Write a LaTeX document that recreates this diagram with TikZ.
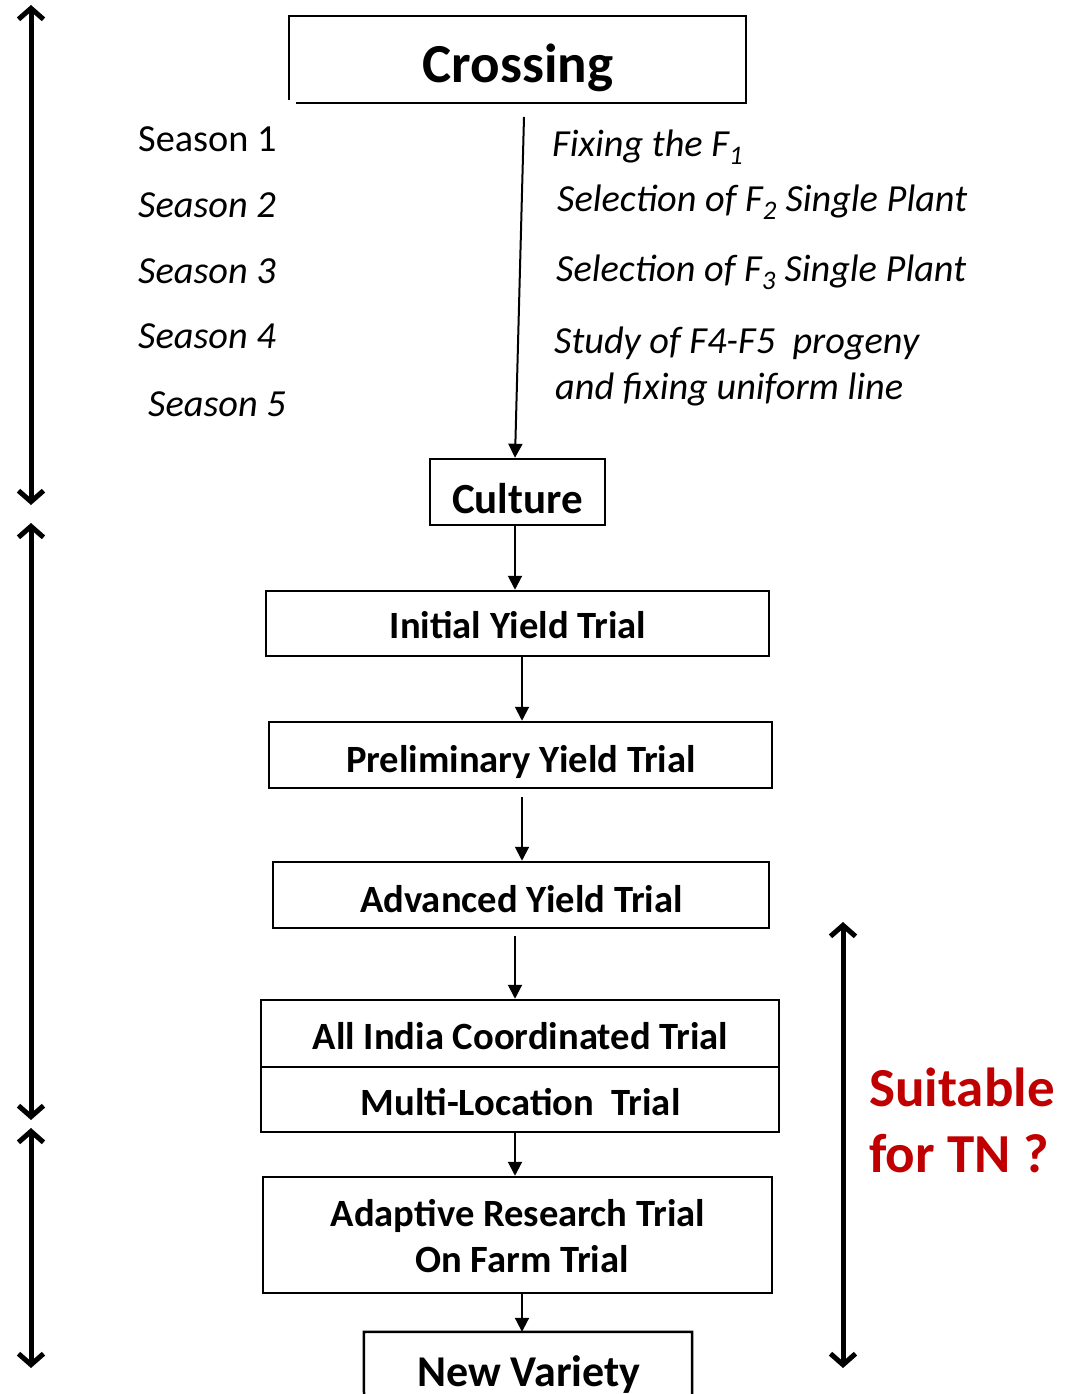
\documentclass[tikz,border=0pt]{standalone}
\usepackage{fontspec}
\setmainfont{Carlito}
\usetikzlibrary{arrows.meta}
\definecolor{tnred}{HTML}{C00000}
\begin{document}
\begin{tikzpicture}[x=1pt,y=-1pt,
  box/.style={draw, line width=2.5pt, inner sep=0pt},
  boxtxt/.style={anchor=base, inner sep=0pt, font=\fontsize{38.6}{42}\selectfont\bfseries},
  flow/.style={line width=2pt, -{Triangle[length=14pt,width=14pt]}},
  span/.style={line width=5pt, line cap=round, {Straight Barb[length=11pt,width=25pt]}-{Straight Barb[length=11pt,width=25pt]}},
  season/.style={anchor=base west, inner sep=0pt, font=\fontsize{38.3}{42}\selectfont},
  seasonit/.style={season, font=\fontsize{38.3}{42}\selectfont\itshape},
  note/.style={anchor=base west, inner sep=0pt, font=\fontsize{38.3}{42}\selectfont\itshape},
]
\useasboundingbox (0,0) rectangle (1072,1394);

% Crossing box (with its slightly offset lower-left corner)
\node[inner sep=0pt, minimum width=457pt, minimum height=87pt] (cross) at (517.5,59.5) {};
\draw[line width=2.5pt] ([yshift=3pt]cross.south west) -- (cross.north west) -- (cross.north east) -- (cross.south east) -- ([xshift=7pt]cross.south west);
\node[anchor=base, inner sep=0pt, font=\fontsize{55}{60}\selectfont\bfseries] (crossT) at (518,83) {Crossing};

% Season labels
\node[season] (s1) at (138,151) {Season 1};
\node[seasonit] (s2) at (138,217) {Season 2};
\node[seasonit] (s3) at (138,283) {Season 3};
\node[seasonit] (s4) at (138,348) {Season 4};
\node[seasonit] (s5) at (148,416) {Season 5};

% Generation notes
\node[note] (n1) at (552,156) {Fixing the F\textsubscript{1}};
\node[note] (n2) at (557,211) {Selection of F\textsubscript{2} Single Plant};
\node[note] (n3) at (556,281) {Selection of F\textsubscript{3} Single Plant};
\node[note] (n4) at (554,353) {Study of F4-F5\ \ progeny};
\node[note] (n5) at (555,399) {and fixing uniform line};

% Culture
\node[box, minimum width=175pt, minimum height=66pt] (cult) at (517.5,492) {};
\node[boxtxt, font=\fontsize{43}{48}\selectfont\bfseries] (cultT) at (517.5,513) {Culture};

% Trials
\node[box, minimum width=503pt, minimum height=65pt] (iyt) at (517.5,623.5) {};
\node[boxtxt] (iytT) at (518,638) {Initial Yield Trial};

\node[box, minimum width=503pt, minimum height=66pt] (pyt) at (520.5,755) {};
\node[boxtxt] (pytT) at (521,772) {Preliminary Yield Trial};

\node[box, minimum width=496pt, minimum height=66pt] (ayt) at (521,895) {};
\node[boxtxt] (aytT) at (521.5,912) {Advanced Yield Trial};

\node[box, minimum width=518pt, minimum height=67pt] (aic) at (520,1033.5) {};
\node[boxtxt] (aicT) at (520.5,1049) {All India Coordinated Trial};
\node[box, minimum width=518pt, minimum height=65pt] (mlt) at (520,1099.5) {};
\node[boxtxt] (mltT) at (520.5,1115) {Multi-Location\ \ Trial};

\node[box, minimum width=509pt, minimum height=116pt] (art) at (517.5,1235) {};
\node[boxtxt] (artT1) at (518,1226) {Adaptive Research Trial};
\node[boxtxt] (artT2) at (522,1272) {On Farm Trial};

% New Variety (box runs off the bottom edge)
\node[inner sep=0pt, minimum width=328pt, minimum height=80pt] (nv) at (528,1372) {};
\draw[line width=2.5pt] (364,1394) -- (nv.north west) -- (nv.north east) -- (692,1394);
\node[boxtxt, font=\fontsize{44}{48}\selectfont\bfseries] (nvT) at (529,1386) {New Variety};

% Flow arrows
\coordinate (c0) at (524,117);
\draw[flow] (c0) -- ([xshift=-2.5pt]cult.north);
\draw[flow] ([xshift=-2.5pt]cult.south) -- ([xshift=-2.5pt]cult.south |- iyt.north);
\draw[flow] ([xshift=4.5pt]iyt.south) -- ([xshift=4.5pt]iyt.south |- pyt.north);
\draw[flow] ([xshift=1.5pt,yshift=-8pt]pyt.south) -- ([xshift=1.5pt]pyt.south |- ayt.north);
\draw[flow] ([xshift=-6pt,yshift=-7pt]ayt.south) -- ([xshift=-6pt]ayt.south |- aic.north);
\draw[flow] ([xshift=-5pt]mlt.south) -- ([xshift=-5pt]mlt.south |- art.north);
\draw[flow] ([xshift=4.5pt]art.south) -- ([xshift=4.5pt]art.south |- nv.north);

% Season span arrows
\coordinate (a1t) at (31,5);    \coordinate (a1b) at (31,505);
\coordinate (a2t) at (31,523);  \coordinate (a2b) at (31,1120);
\coordinate (a3t) at (31,1128); \coordinate (a3b) at (31,1368);
\coordinate (a4t) at (843,922); \coordinate (a4b) at (843,1368);
\draw[span] (a1t) -- (a1b);
\draw[span] (a2t) -- (a2b);
\draw[span] (a3t) -- (a3b);
\draw[span] (a4t) -- (a4b);

% Suitable for TN ?
\node[anchor=base west, inner sep=0pt, align=left, text=tnred, font=\fontsize{55}{66}\selectfont\bfseries] (tn) at (869,1172) {Suitable\\for TN ?};
\end{tikzpicture}
\end{document}
